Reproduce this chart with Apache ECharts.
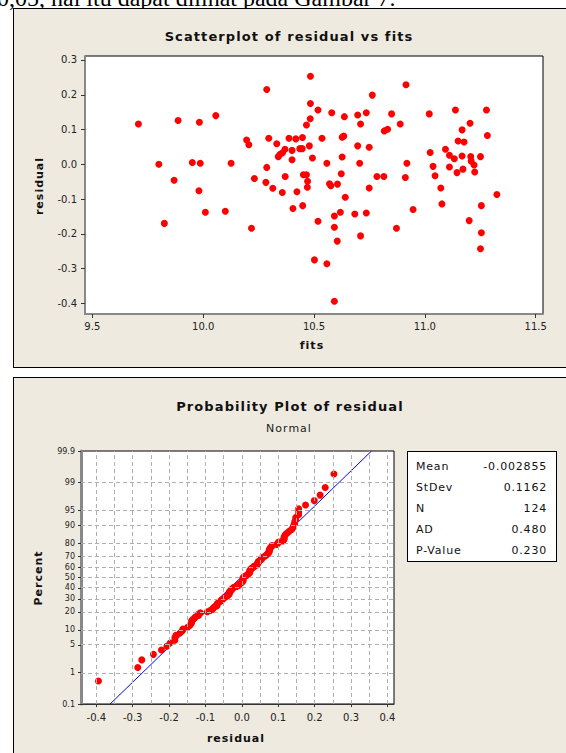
<!DOCTYPE html>
<html><head><meta charset="utf-8">
<script src="https://cdn.jsdelivr.net/npm/echarts@6/dist/echarts.min.js"></script>
<style>
html,body{margin:0;padding:0;background:#fff;}
#wrap{position:relative;width:566px;height:753px;overflow:hidden;font-family:"DejaVu Sans",Verdana,sans-serif;color:#111;}
.panel{position:absolute;background:#EEEADF;border:1px solid #000;box-sizing:border-box;}
#toptext{position:absolute;left:-3px;top:-14px;font-family:"Liberation Serif","Times New Roman",serif;font-size:24px;line-height:24px;white-space:nowrap;color:#000;}
#c{position:absolute;left:0;top:0;width:566px;height:753px;}
.ttl{position:absolute;width:400px;text-align:center;white-space:nowrap;}
.bold{font-weight:bold;}
.rot{position:absolute;white-space:nowrap;transform:translate(-50%,-50%) rotate(-90deg);font-weight:bold;font-size:11px;letter-spacing:1px;}
#stats{position:absolute;left:407px;top:451px;width:150px;height:111px;background:#fff;border:1px solid #000;box-sizing:border-box;font-size:11px;letter-spacing:0.8px;}
.srow{position:absolute;left:8px;width:131px;height:14px;line-height:14px;}
.srow .l{position:absolute;left:0;}
.srow .v{position:absolute;right:0;}
</style></head><body>
<div id="wrap">
<div id="toptext">0,05, hal itu dapat dilihat pada Gambar 7.</div>
<div class="panel" style="left:13px;top:8px;width:570px;height:360px;"></div>
<div class="panel" style="left:13px;top:377px;width:570px;height:400px;"></div>
<div id="c"></div>
<div class="ttl bold" id="t1" style="left:89px;top:29px;font-size:13px;line-height:16px;letter-spacing:1.1px;"></div>
<div class="ttl bold" id="t2" style="left:90px;top:399px;font-size:13px;line-height:16px;letter-spacing:1.1px;"></div>
<div class="ttl" id="t2s" style="left:89px;top:421px;font-size:11px;line-height:15px;letter-spacing:1px;color:#222;"></div>
<div class="ttl bold" id="ax1x" style="left:112px;top:338px;font-size:11px;line-height:15px;letter-spacing:1px;"></div>
<div class="rot" id="ax1y" style="left:39px;top:186px;"></div>
<div class="ttl bold" id="ax2x" style="left:36px;top:731px;font-size:11px;line-height:15px;letter-spacing:1px;"></div>
<div class="rot" id="ax2y" style="left:38px;top:578px;"></div>
<div id="stats"></div>
</div>
<script>
// ---- data ----
const fits = [9.708,9.887,9.983,10.057,10.196,10.206,9.800,9.951,9.987,10.126,9.869,9.981,10.010,10.100,9.825,
10.484,10.287,10.763,10.484,10.518,10.580,10.637,10.697,10.736,10.850,10.889,10.483,10.466,10.710,10.296,10.387,10.418,10.448,10.536,10.627,10.634,10.817,10.832,10.332,10.339,10.347,10.358,10.369,10.401,10.436,10.447,10.479,10.697,10.749,10.401,10.493,10.627,10.558,10.706,10.287,10.623,10.452,10.466,10.370,10.231,10.784,10.815,10.283,10.471,10.570,10.576,10.606,10.314,10.470,10.749,10.357,10.423,10.641,10.405,10.449,10.518,10.592,10.619,10.684,10.736,10.592,10.605,10.710,10.218,10.872,10.502,10.558,10.592,
10.915,11.138,11.278,11.020,11.204,11.168,11.282,11.150,11.177,11.093,11.024,11.111,11.133,11.168,11.207,11.251,11.209,11.222,10.919,11.037,11.111,11.172,11.145,11.225,10.912,11.046,11.072,11.325,11.077,11.255,10.947,11.200,11.255,11.251];
const residual = [0.116,0.126,0.121,0.140,0.070,0.056,0.000,0.005,0.003,0.003,-0.046,-0.076,-0.138,-0.135,-0.170,
0.253,0.215,0.199,0.175,0.156,0.148,0.137,0.142,0.148,0.145,0.116,0.131,0.113,0.116,0.075,0.075,0.073,0.077,0.075,0.078,0.081,0.096,0.101,0.059,0.022,0.029,0.033,0.043,0.040,0.045,0.045,0.053,0.053,0.049,0.013,0.018,0.021,0.003,0.003,-0.009,-0.027,-0.030,-0.030,-0.035,-0.041,-0.035,-0.035,-0.052,-0.049,-0.056,-0.062,-0.057,-0.069,-0.066,-0.068,-0.081,-0.079,-0.095,-0.127,-0.119,-0.164,-0.149,-0.138,-0.143,-0.140,-0.181,-0.221,-0.206,-0.184,-0.184,-0.275,-0.286,-0.394,
0.229,0.156,0.156,0.145,0.118,0.099,0.083,0.067,0.064,0.043,0.034,0.026,0.016,0.024,0.022,0.022,0.009,-0.002,0.003,-0.006,-0.008,-0.014,-0.024,-0.022,-0.038,-0.033,-0.068,-0.087,-0.114,-0.119,-0.130,-0.162,-0.197,-0.243];

const scatterTitle = 'Scatterplot of residual vs fits';
const probTitle = 'Probability Plot of residual';
const probSubtitle = 'Normal';
const scatterXName = 'fits', scatterYName = 'residual';
const probXName = 'residual', probYName = 'Percent';

const scatterXTicks = [9.5, 10.0, 10.5, 11.0, 11.5];
const scatterYTicks = [-0.4, -0.3, -0.2, -0.1, 0.0, 0.1, 0.2, 0.3];
const probXTicks = [-0.4, -0.3, -0.2, -0.1, 0.0, 0.1, 0.2, 0.3, 0.4];
const probXGrid = [-0.4, -0.35, -0.3, -0.25, -0.2, -0.15, -0.1, -0.05, 0, 0.05, 0.1, 0.15, 0.2, 0.25, 0.3, 0.35, 0.4];
const percentTicks = [0.1, 1, 5, 10, 20, 30, 40, 50, 60, 70, 80, 90, 95, 99, 99.9];
const percentTickLabels = ['0.1','1','5','10','20','30','40','50','60','70','80','90','95','99','99.9'];
const percentGrid = [1, 5, 10, 20, 30, 40, 50, 60, 70, 80, 90, 95, 99];

const statNames = ['Mean', 'StDev', 'N', 'AD', 'P-Value'];
const statValues = ['-0.002855', '0.1162', '124', '0.480', '0.230'];
const fitMean = -0.002855, fitSd = 0.1162;

// ---- texts ----
document.getElementById('t1').textContent = scatterTitle;
document.getElementById('t2').textContent = probTitle;
document.getElementById('t2s').textContent = probSubtitle;
document.getElementById('ax1x').textContent = scatterXName;
document.getElementById('ax1y').textContent = scatterYName;
document.getElementById('ax2x').textContent = probXName;
document.getElementById('ax2y').textContent = probYName;
const st = document.getElementById('stats');
statNames.forEach((n, i) => {
  const r = document.createElement('div');
  r.className = 'srow';
  r.style.top = (8 + i * 20.9) + 'px';
  r.innerHTML = '<span class="l"></span><span class="v"></span>';
  r.querySelector('.l').textContent = n;
  r.querySelector('.v').textContent = statValues[i];
  st.appendChild(r);
});

// ---- normal quantile (probability axis scale) ----
function normInv(p){
 const a=[-3.969683028665376e+01,2.209460984245205e+02,-2.759285104469687e+02,1.383577518672690e+02,-3.066479806614716e+01,2.506628277459239e+00];
 const b=[-5.447609879822406e+01,1.615858368580409e+02,-1.556989798598866e+02,6.680131188771972e+01,-1.328068155022803e+01];
 const c=[-7.784894002430293e-03,-3.223964580411365e-01,-2.400758277161838e+00,-2.549732539343734e+00,4.374664141464968e+00,2.938163982698783e+00];
 const d=[7.784695709041462e-03,3.224671290700398e-01,2.445134137142996e+00,3.754408661907416e+00];
 const pl=0.02425, ph=1-pl; let q,r;
 if(p<pl){q=Math.sqrt(-2*Math.log(p));return (((((c[0]*q+c[1])*q+c[2])*q+c[3])*q+c[4])*q+c[5])/((((d[0]*q+d[1])*q+d[2])*q+d[3])*q+1);}
 if(p<=ph){q=p-0.5;r=q*q;return (((((a[0]*r+a[1])*r+a[2])*r+a[3])*r+a[4])*r+a[5])*q/(((((b[0]*r+b[1])*r+b[2])*r+b[3])*r+b[4])*r+1);}
 q=Math.sqrt(-2*Math.log(1-p));return -(((((c[0]*q+c[1])*q+c[2])*q+c[3])*q+c[4])*q+c[5])/((((d[0]*q+d[1])*q+d[2])*q+d[3])*q+1);
}
const zTicks = percentTicks.map(p => normInv(p / 100));
const zMin = zTicks[0], zMax = zTicks[zTicks.length - 1];
function pctLabel(v){
  for (let i = 0; i < zTicks.length; i++) if (Math.abs(zTicks[i] - v) < 1e-6) return percentTickLabels[i];
  return '';
}

const scatterData = fits.map((f, i) => [f, residual[i]]);
const sorted = residual.slice().sort((a, b) => a - b);
const n = sorted.length;
const probData = sorted.map((v, i) => [v, normInv((i + 1 - 0.3) / (n + 0.4))]);
const fitLine = [[fitMean + fitSd * zMin, zMin], [fitMean + fitSd * zMax, zMax]];

const labelFont = {fontFamily: 'DejaVu Sans', color: '#222'};
const chart = echarts.init(document.getElementById('c'), null, {renderer: 'svg'});
chart.setOption({
  animation: false,
  backgroundColor: 'transparent',
  grid: [
    {left: 85, top: 56, width: 458, height: 258, show: true, backgroundColor: '#fff', borderColor: '#000', borderWidth: 1},
    {left: 81, top: 451, width: 313, height: 253, show: true, backgroundColor: '#fff', borderColor: '#000', borderWidth: 1}
  ],
  xAxis: [
    {type: 'value', gridIndex: 0, min: 9.467, max: 11.533,
     axisLine: {onZero: false, lineStyle: {color: '#888', width: 2}},
     axisTick: {show: true, length: 4, customValues: scatterXTicks, lineStyle: {color: '#333'}},
     axisLabel: {customValues: scatterXTicks, fontSize: 10, margin: 7, formatter: v => v.toFixed(1), ...labelFont},
     splitLine: {show: false}},
    {type: 'value', gridIndex: 1, min: -0.442, max: 0.418,
     axisLine: {onZero: false, lineStyle: {color: '#333', width: 1}},
     axisTick: {show: true, length: 3, customValues: probXTicks, lineStyle: {color: '#333'}},
     axisLabel: {customValues: probXTicks, fontSize: 10, margin: 8, formatter: v => v.toFixed(1), ...labelFont},
     splitLine: {show: false}}
  ],
  yAxis: [
    {type: 'value', gridIndex: 0, min: -0.4307, max: 0.3115,
     axisLine: {onZero: false, lineStyle: {color: '#888', width: 2}},
     axisTick: {show: true, length: 4, customValues: scatterYTicks, lineStyle: {color: '#333'}},
     axisLabel: {customValues: scatterYTicks, fontSize: 10, margin: 8, formatter: v => v.toFixed(1), ...labelFont},
     splitLine: {show: false}},
    {type: 'value', gridIndex: 1, min: zMin, max: zMax,
     axisLine: {onZero: false, lineStyle: {color: '#888', width: 3}},
     axisTick: {show: true, length: 3, customValues: zTicks, lineStyle: {color: '#333'}},
     axisLabel: {customValues: zTicks, fontSize: 8, margin: 6, formatter: v => pctLabel(v), ...labelFont},
     splitLine: {show: false}}
  ],
  series: [
    {type: 'scatter', xAxisIndex: 0, yAxisIndex: 0, data: scatterData, symbolSize: 7,
     itemStyle: {color: '#FF0000', opacity: 1}, z: 3},
    {type: 'line', xAxisIndex: 1, yAxisIndex: 1, data: [], z: 1, silent: true,
     markLine: {silent: true, symbol: ['none', 'none'], label: {show: false}, animation: false,
       lineStyle: {type: [4, 3], color: '#b0b0b0', width: 1},
       data: probXGrid.map(v => ({xAxis: v})).concat(percentGrid.map(p => ({yAxis: normInv(p / 100)})))}},
    {type: 'line', xAxisIndex: 1, yAxisIndex: 1, data: fitLine, symbol: 'none', silent: true,
     lineStyle: {color: '#0000FF', width: 1}, z: 2},
    {type: 'scatter', xAxisIndex: 1, yAxisIndex: 1, data: probData, symbolSize: 7,
     itemStyle: {color: '#FF0000', opacity: 1}, z: 3}
  ]
});
</script>
</body></html>
